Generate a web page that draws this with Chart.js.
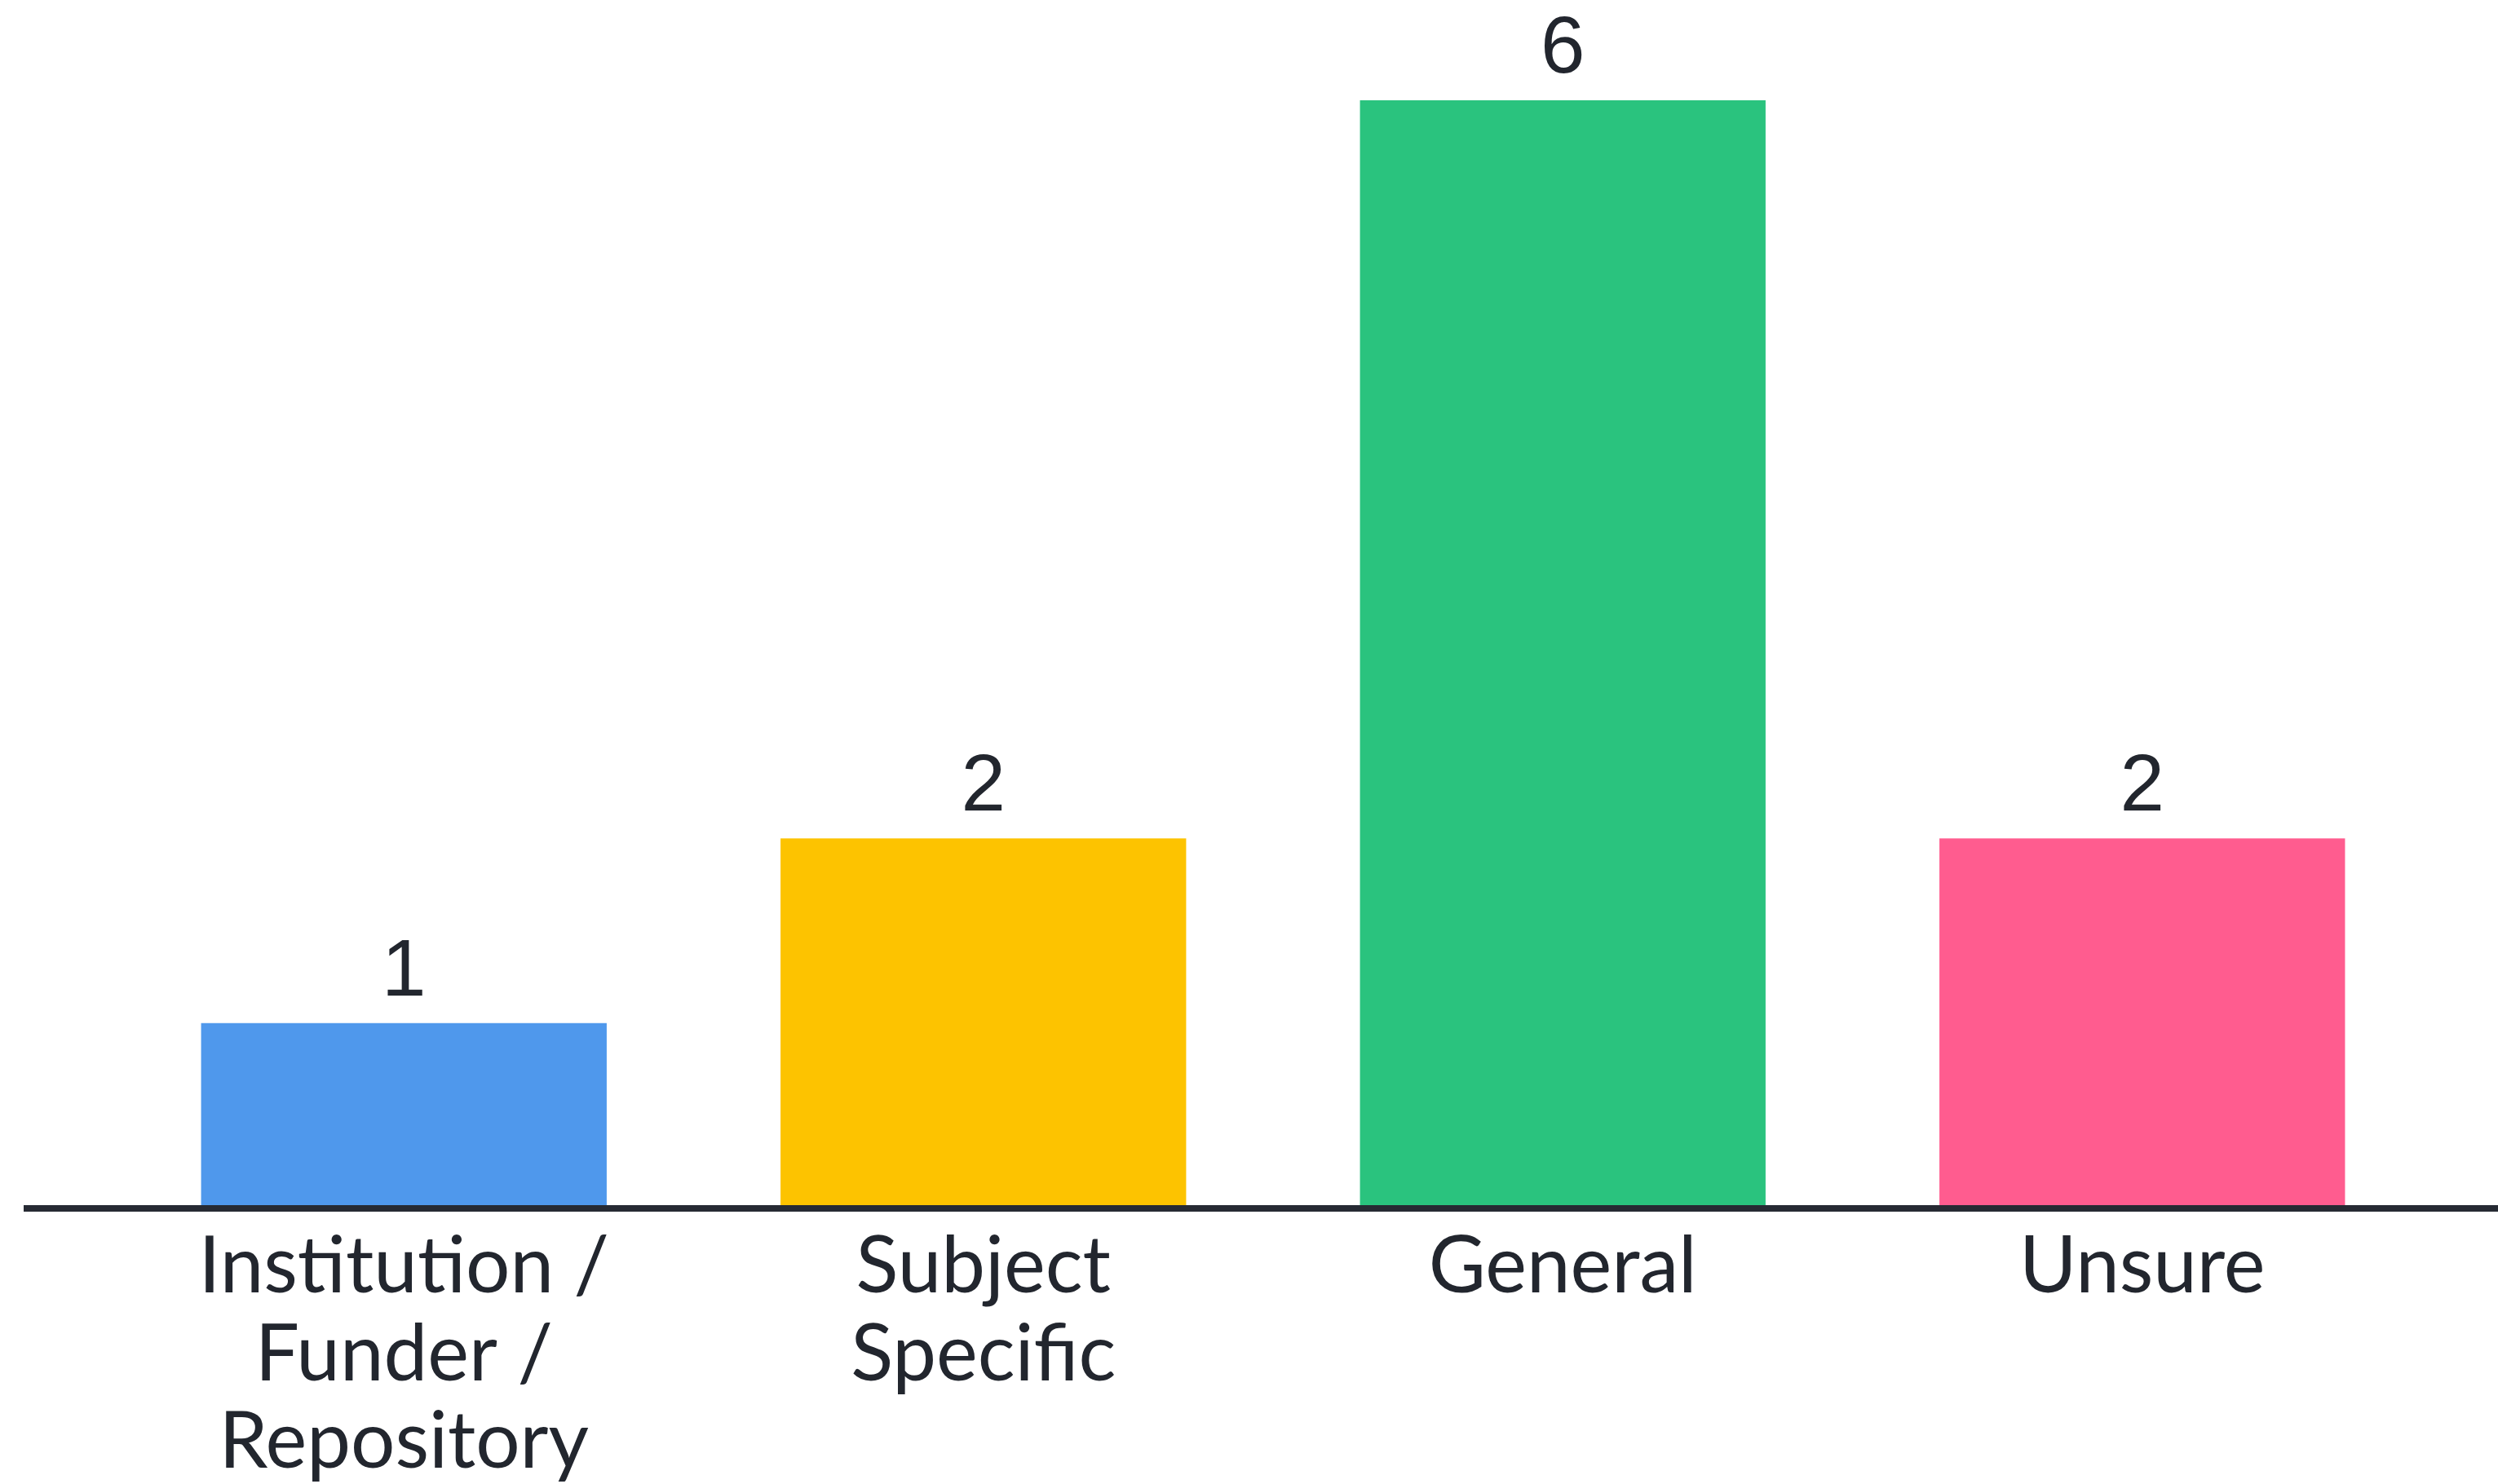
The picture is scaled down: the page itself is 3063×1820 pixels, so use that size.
<!DOCTYPE html>
<html>
<head>
<meta charset="utf-8">
<script src="https://cdn.jsdelivr.net/npm/chart.js@4.4.1/dist/chart.umd.min.js"></script>
<style>
  html, body { margin: 0; padding: 0; background: #ffffff; }
  #wrap { width: 3063px; height: 1820px; }
</style>
</head>
<body>
<div id="wrap"><canvas id="chart" width="3063" height="1820"></canvas></div>
<script>
// data
const categories = [
  ["Institution /", "Funder /", "Repository"],
  ["Subject", "Specific"],
  "General",
  "Unsure",
];
const responses = [1, 2, 6, 2];
const barColors = ["#4f98ec", "#fdc300", "#2ac37e", "#ff5c8f"];

const textColor = "#22262e";
const axisColor = "#262a33";

// value labels above each bar
const valueLabels = {
  id: "valueLabels",
  afterDatasetsDraw(chart) {
    const ctx = chart.ctx;
    const meta = chart.getDatasetMeta(0);
    ctx.save();
    ctx.fillStyle = textColor;
    ctx.font = "98px 'Liberation Sans', Arial, sans-serif";
    ctx.textAlign = "center";
    ctx.textBaseline = "alphabetic";
    meta.data.forEach((bar, i) => {
      ctx.fillText(String(responses[i]), bar.x, bar.y - 34);
    });
    ctx.restore();
  },
};

// the baseline runs past the plot area on both sides
const baseLine = {
  id: "baseLine",
  afterDatasetsDraw(chart) {
    const ctx = chart.ctx;
    const y = chart.scales.y.getPixelForValue(0) + 1;
    ctx.save();
    ctx.strokeStyle = axisColor;
    ctx.lineWidth = 8;
    ctx.beginPath();
    ctx.moveTo(29, y);
    ctx.lineTo(chart.width, y);
    ctx.stroke();
    ctx.restore();
  },
};

new Chart(document.getElementById("chart"), {
  type: "bar",
  data: {
    labels: categories,
    datasets: [
      {
        data: responses,
        backgroundColor: barColors,
        borderWidth: 0,
        barPercentage: 0.7,
        categoryPercentage: 1.0,
      },
    ],
  },
  options: {
    responsive: false,
    animation: false,
    layout: { padding: { left: 140, right: 81, top: 123, bottom: 0 } },
    plugins: {
      legend: { display: false },
      tooltip: { enabled: false },
    },
    scales: {
      y: {
        display: false,
        min: 0,
        max: 6,
      },
      x: {
        grid: { display: false, drawTicks: false },
        border: { display: false },
        ticks: {
          color: textColor,
          padding: 20,
          maxRotation: 0,
          autoSkip: false,
          font: { family: "Lato, 'Open Sans', sans-serif", size: 96, lineHeight: 1.115 },
        },
        afterFit(scale) {
          scale.height = 339;
        },
      },
    },
  },
  plugins: [valueLabels, baseLine],
});
</script>
</body>
</html>
